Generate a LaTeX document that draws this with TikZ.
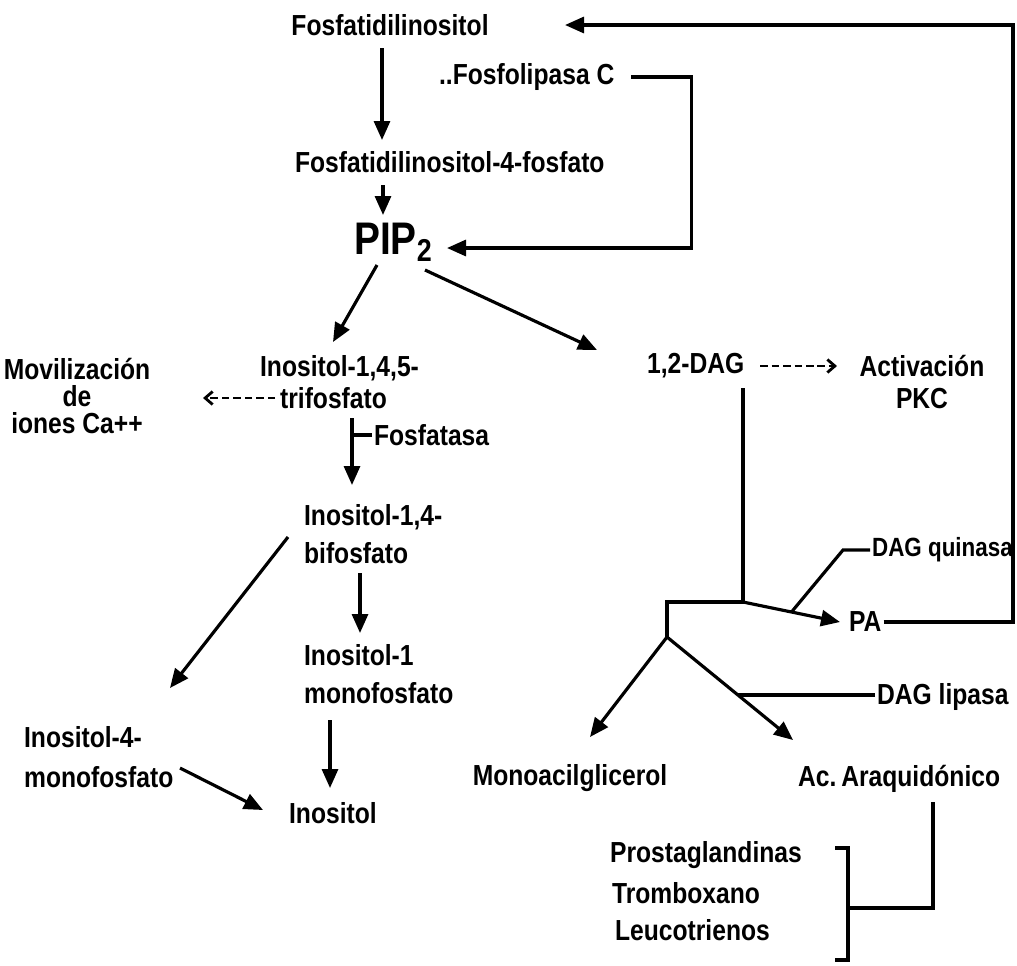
\documentclass[tikz,border=0pt]{standalone}
\usepackage{fontspec}
\setmainfont[FakeStretch=0.85]{Liberation Sans}
\usetikzlibrary{arrows.meta, positioning}
\tikzset{
    compound/.style={inner sep=1pt, font=\fontsize{16.5}{20}\selectfont\bfseries},
    multiline/.style={compound, align=left},
    arrow/.style={-{Triangle[length=0.38cm, width=0.32cm]}, line width=1.8pt},
    dasharrow/.style={-{Straight Barb[length=0.15cm, width=0.26cm]}, line width=1.6pt, dash pattern=on 0.15cm off 0.08cm},
    plain/.style={line width=1.8pt},
}

\begin{document}
\begin{tikzpicture}[x=0.02cm, y=-0.02cm]
    \useasboundingbox (0,0) rectangle (1017,965);

    % Nodes
    \node[compound] (fi) at (390,25) {Fosfatidilinositol};
    \node[compound, anchor=west] (plc) at (437,77) {..Fosfolipasa C};
    \node[compound, anchor=west] (f4p) at (293,162) {Fosfatidilinositol-4-fosfato};
    \node[compound, font=\fontsize{26}{26}\selectfont\bfseries] (pip) at (393,242) {PIP\raisebox{-0.3ex}{\fontsize{18}{18}\selectfont 2}};
    \node[compound, anchor=west] (ins145) at (258,368) {Inositol-1,4,5-};
    \node[compound, anchor=west] (trif) at (278,398) {trifosfato};
    \node[multiline, align=center, font=\fontsize{16.5}{15.6}\selectfont\bfseries] (movil) at (77,396) {Movilización\\de\\iones Ca++};
    \node[compound, anchor=west] (fosf) at (372,435) {Fosfatasa};
    \node[multiline, anchor=west, font=\fontsize{16.5}{21.6}\selectfont\bfseries] (ins14) at (302,534) {Inositol-1,4-\\bifosfato};
    \node[multiline, anchor=west, font=\fontsize{16.5}{21.6}\selectfont\bfseries] (ins1) at (302,674) {Inositol-1\\monofosfato};
    \node[multiline, anchor=west, font=\fontsize{16.5}{22.8}\selectfont\bfseries] (ins4) at (22,757) {Inositol-4-\\monofosfato};
    \node[compound, anchor=west] (ino) at (287,813) {Inositol};
    \node[compound, anchor=west] (dag) at (645,366) {1,2-DAG};
    \node[multiline, align=center, font=\fontsize{16.5}{18.2}\selectfont\bfseries] (pkc) at (922,382) {Activación\\PKC};
    \node[compound, anchor=west, font=\fontsize{15}{18}\selectfont\bfseries] (dagq) at (870,550) {DAG quinasa};
    \node[compound, anchor=west] (pa) at (847,622) {PA};
    \node[compound, anchor=west] (dagl) at (875,697) {DAG lipasa};
    \node[compound] (mag) at (570,778) {Monoacilglicerol};
    \node[compound, anchor=west] (aa) at (796,779) {Ac.\,Araquidónico};
    \node[compound, anchor=west] (prost) at (608,855) {Prostaglandinas};
    \node[compound, anchor=west] (trom) at (610,893) {Tromboxano};
    \node[compound, anchor=west] (leuc) at (613,930) {Leucotrienos};

    % Inositol branch
    \draw[arrow] ([shift={(-8,23)}]fi.center) -- ([shift={(89,-22)}]f4p.west);
    \draw[arrow] ([shift={(90,23)}]f4p.west) -- ([shift={(-10,-27)}]pip.center);
    \draw[arrow] ([shift={(15,0)}]plc.east) -- ++(60,0) |- ([shift={(54,6)}]pip.center);
    \draw[arrow] ([shift={(-16,23)}]pip.center) -- ([shift={(75,-26)}]ins145.west);
    \draw[arrow] ([shift={(32,28)}]pip.center) -- ([shift={(-48,-16)}]dag.west);
    \draw[dasharrow] ([shift={(-3,0)}]trif.west) -- ([shift={(126,2)}]movil.center);
    \draw[arrow] ([shift={(74,20)}]trif.west) -- ([shift={(50,-49)}]ins14.west);
    \draw[plain] (fosf.west) -- ++(-18,0);
    \draw[arrow] ([shift={(58,39)}]ins14.west) -- ([shift={(58,-41)}]ins1.west);
    \draw[arrow] ([shift={(-14,3)}]ins14.west) -- ([shift={(148,-69)}]ins4.west);
    \draw[arrow] ([shift={(28,46)}]ins1.west) -- ([shift={(43,-25)}]ino.west);
    \draw[arrow] ([shift={(158,11)}]ins4.west) -- ([shift={(-24,-3)}]ino.west);

    % DAG branch
    \coordinate (split) at (743,602);
    \coordinate (fork) at (667,637);
    \draw[dasharrow] ([shift={(115,0)}]dag.west) -- ([shift={(-85,-16)}]pkc.center);
    \draw[plain] ([shift={(98,22)}]dag.west) -- (split) -| (fork);
    \draw[arrow] (split) -- coordinate[pos=0.5] (quin) ([shift={(-7,0)}]pa.west);
    \draw[arrow] (fork) -- ([shift={(20,-41)}]mag.center);
    \draw[arrow] (fork) -- coordinate[pos=0.563] (lipa) ([shift={(-3,-39)}]aa.west);
    \draw[plain] (dagq.west) -- ++(-27,0) -- (quin);
    \draw[plain] (lipa -| dagl.west) -- (lipa);
    \draw[arrow] (pa.east) -| ([shift={(623,0)}]fi.center) -- ([shift={(175,0)}]fi.center);

    % Eicosanoids
    \draw[plain] ([shift={(227,-7)}]prost.west) -- ++(13,0) -- ++(0,112) -- ++(-13,0);
    \draw[plain] ([shift={(137,23)}]aa.west) |- ([shift={(238,15)}]trom.west);

\end{tikzpicture}
\end{document}
